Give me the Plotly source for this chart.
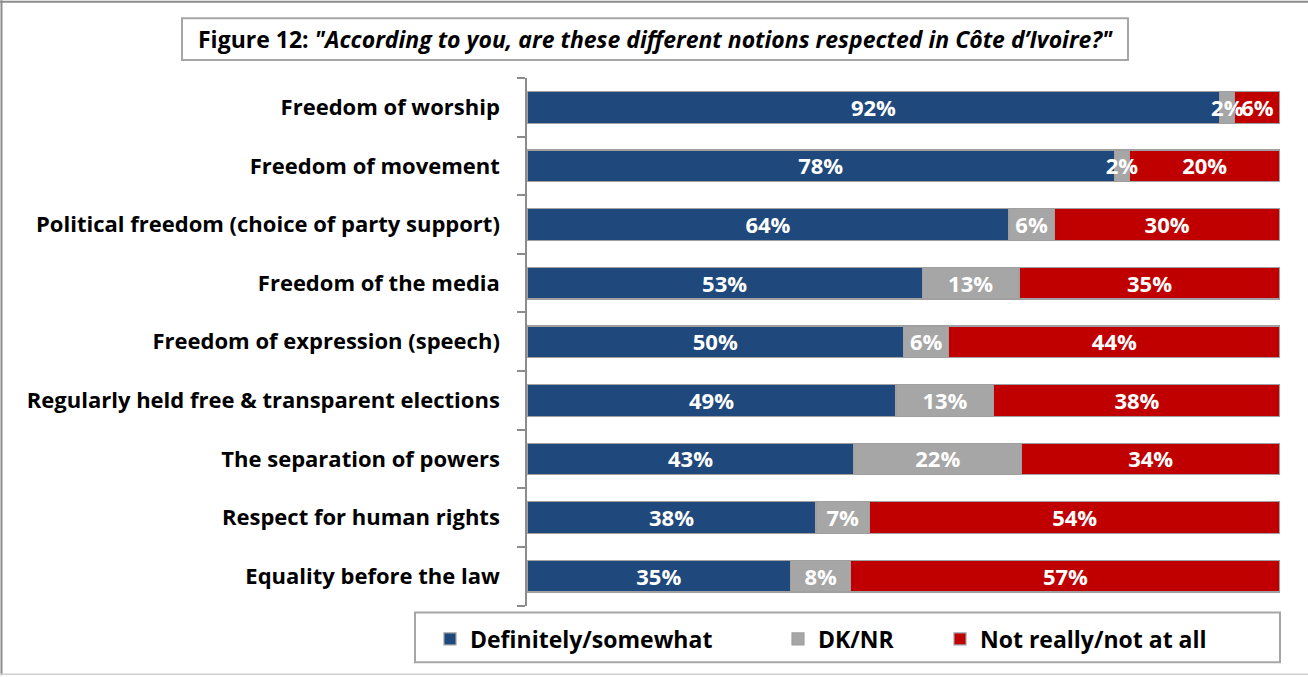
import plotly.graph_objects as go

# Survey items, top to bottom
categories = [
    "Freedom of worship",
    "Freedom of movement",
    "Political freedom (choice of party support)",
    "Freedom of the media",
    "Freedom of expression (speech)",
    "Regularly held free & transparent elections",
    "The separation of powers",
    "Respect for human rights",
    "Equality before the law",
]
definitely = [92, 78, 64, 53, 50, 49, 43, 38, 35]
dk_nr = [2, 2, 6, 13, 6, 13, 22, 7, 8]
not_really = [6, 20, 30, 35, 44, 38, 34, 54, 57]

series_names = ["Definitely/somewhat", "DK/NR", "Not really/not at all"]
series_colors = ["#1F497D", "#A6A6A6", "#C00000"]
series_values = [definitely, dk_nr, not_really]

FONT = "Open Sans"
W, H = 1308, 677
L, R, T, B = 527, 28, 78, 70
PW, PH = W - L - R, H - T - B

rows = list(range(len(categories)))


def px(x):
    return (x - L) / PW


def py(y):
    return (H - B - y) / PH


fig = go.Figure()
for i, (name, vals, col) in enumerate(zip(series_names, series_values, series_colors)):
    fig.add_trace(go.Bar(
        y=rows, x=vals, name=name, orientation="h",
        marker=dict(color=col, line=dict(color="#A0A0A0", width=1.2)),
        legend="legend" if i == 0 else f"legend{i + 1}",
        hoverinfo="skip",
    ))

# Value labels, centred on each segment of the 100%-normalised bars,
# drawn last so they sit above every segment (nudged to optical centre).
lab_x, lab_y, lab_t = [], [], []
for r in rows:
    row = [s[r] for s in series_values]
    total = sum(row)
    start = 0.0
    for v in row:
        lab_x.append((start + v / 2) / total * 100)
        lab_y.append(r + 0.05)
        lab_t.append(f"{v}%")
        start += v
fig.add_trace(go.Scatter(
    x=lab_x, y=lab_y, text=lab_t, mode="text", showlegend=False,
    textfont=dict(family=FONT, size=22, color="white", weight="bold"),
    hoverinfo="skip",
))

legend_common = dict(
    orientation="h", xref="container", yref="container", yanchor="middle",
    y=1 - 639 / H, bgcolor="rgba(0,0,0,0)",
    font=dict(family=FONT, size=23, color="black", weight="bold"),
)

fig.update_layout(
    width=W, height=H,
    margin=dict(l=L, r=R, t=T, b=B),
    barmode="stack", barnorm="percent", bargap=0.46,
    plot_bgcolor="white", paper_bgcolor="white",
    showlegend=True,
    legend=dict(x=430 / W, **legend_common),
    legend2=dict(x=778 / W, **legend_common),
    legend3=dict(x=940 / W, **legend_common),
    xaxis=dict(range=[0, 100], visible=False, fixedrange=True),
    yaxis=dict(
        range=[len(rows) - 0.5, -0.5], showline=True, linecolor="#8C8C8C",
        linewidth=1.5, showgrid=False, zeroline=False,
        tickmode="array", tickvals=rows, ticktext=categories,
        ticks="", ticklabelstandoff=21,
        tickfont=dict(family=FONT, size=22, color="black", weight="bold"),
        minor=dict(tickmode="array", tickvals=[r - 0.5 for r in rows] + [len(rows) - 0.5],
                   ticks="outside", ticklen=8, tickcolor="#8C8C8C", tickwidth=1.5,
                   showgrid=False),
    ),
    shapes=[
        # title frame
        dict(type="rect", xref="paper", yref="paper", x0=px(182), x1=px(1128),
             y0=py(60), y1=py(18), line=dict(color="#A6A6A6", width=2)),
        # legend frame
        dict(type="rect", xref="paper", yref="paper", x0=px(415), x1=px(1280),
             y0=py(664), y1=py(614), line=dict(color="#A6A6A6", width=2)),
        # outer frame edges
        dict(type="line", xref="paper", yref="paper", x0=px(1.5), x1=px(1.5),
             y0=py(0), y1=py(677), line=dict(color="#8C8C8C", width=2)),
        dict(type="line", xref="paper", yref="paper", x0=px(0), x1=px(1308),
             y0=py(1.5), y1=py(1.5), line=dict(color="#8C8C8C", width=2)),
        dict(type="line", xref="paper", yref="paper", x0=px(0), x1=px(1308),
             y0=py(676), y1=py(676), line=dict(color="#D0D0D0", width=1.5)),
    ],
    annotations=[
        dict(xref="paper", yref="paper", x=px(655), y=py(39), xanchor="center",
             yanchor="middle", showarrow=False,
             text="<b>Figure 12: </b><b><i>\"According to you, are these different notions respected in Côte d’Ivoire?\"</i></b>",
             font=dict(family=FONT, size=23, color="black")),
    ],
)

fig.write_html("out.html")
